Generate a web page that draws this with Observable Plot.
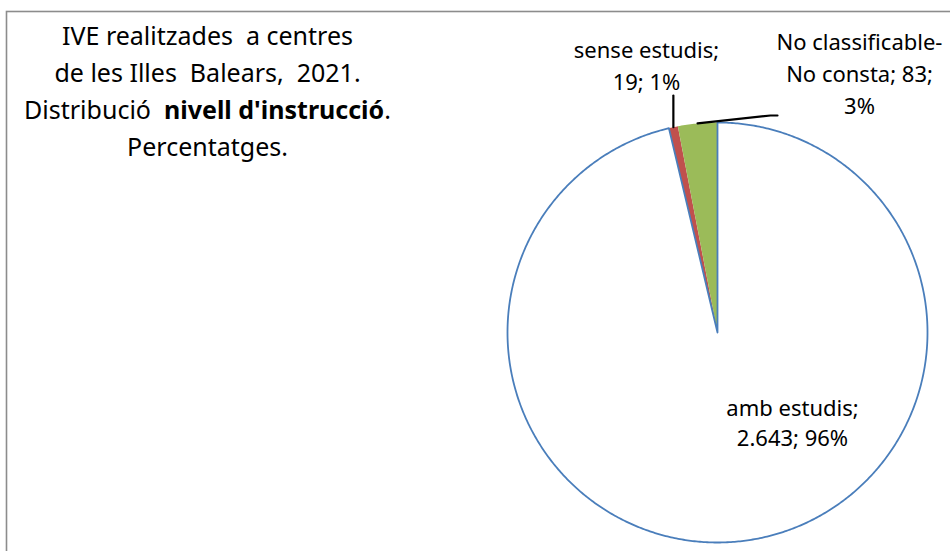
<!DOCTYPE html>
<html><head><meta charset="utf-8">
<script src="https://cdn.jsdelivr.net/npm/d3@7"></script>
<script src="https://cdn.jsdelivr.net/npm/@observablehq/plot@0.6"></script>
<style>
html,body{margin:0;padding:0;background:#fff;overflow:hidden;}
</style></head><body><div id="chart"></div>
<script>
// ---- data ----
const categories = ["amb estudis", "sense estudis", "No classificable-No consta"];
const values = [2643, 19, 83];
const sliceColors = ["#FFFFFF", "#C0504D", "#9BBB59"];
const titleLines = ["IVE realitzades  a centres", "de les Illes  Balears,  2021.", "Distribució  nivell d'instrucció.", "Percentatges."];
const titleBold = "nivell d'instrucció";

// ---- layout (pixels) ----
const W = 950, H = 551, CX = 717, CY = 332, R = 210;
const px = x => (x - CX) / R, py = y => (CY - y) / R;
const titlePos = {x: 207, y: 155, lh: 37, size: 25};
const labelLayout = [
  {x: 792, y: 445, lh: 30, wrap: [2, 2]},
  {x: 646, y: 89, lh: 32, wrap: [2, 2]},
  {x: 859, y: 113, lh: 32, wrap: [2, 3, 1]}
];
const leaderElbows = [null, [[null, 95]], [[770, 115], [777, 115]]];
const labelSize = 22;

// ---- computation ----
const total = d3.sum(values);
const fmt = d3.formatLocale({decimal: ",", thousands: ".", grouping: [3], currency: ["", "€"]}).format(",d");
const rows = categories.map((name, i) => ({name, value: values[i], color: sliceColors[i], i}));
const arcs = d3.pie().sort(null).value(d => d.value).startAngle(0).endAngle(2 * Math.PI)(rows);

function slicePoints(a) {
  const n = Math.max(2, Math.ceil((a.endAngle - a.startAngle) / (Math.PI / 360)));
  const pts = [{x: 0, y: 0}];
  for (let k = 0; k <= n; k++) {
    const t = a.startAngle + (a.endAngle - a.startAngle) * k / n;
    pts.push({x: Math.sin(t), y: Math.cos(t)});
  }
  return pts;
}

const marks = [];
// border
marks.push(Plot.rect([0], {x1: () => px(6.5), x2: () => px(W + 20), y1: () => py(11.5), y2: () => py(H + 20),
  fill: "none", stroke: "#8C8C8C", strokeWidth: 1.6}));

// colored slices first, then the white slice with its blue outline
arcs.slice(1).forEach(a => {
  marks.push(Plot.line(slicePoints(a), {x: "x", y: "y", curve: "linear-closed", fill: a.data.color, stroke: "none"}));
});
marks.push(Plot.line(slicePoints(arcs[0]), {x: "x", y: "y", curve: "linear-closed", fill: arcs[0].data.color, stroke: "#4A7EBB", strokeWidth: 1.8}));

// leader lines
arcs.forEach((a, i) => {
  const el = leaderElbows[i];
  if (!el) return;
  const mid = (a.startAngle + a.endAngle) / 2;
  const start = {x: Math.sin(mid), y: Math.cos(mid)};
  const pts = [start, ...el.map(([ex, ey]) => ({x: ex == null ? start.x : px(ex), y: py(ey)}))];
  marks.push(Plot.line(pts, {x: "x", y: "y", stroke: "#000", strokeWidth: 2.2}));
});

// labels
arcs.forEach((a, i) => {
  const L = labelLayout[i];
  const pct = Math.round(a.data.value / total * 100);
  const full = `${a.data.name}; ${fmt(a.data.value)}; ${pct}%`;
  const tokens = full.split(/(?<=[ \-])/);
  const lines = [];
  let k = 0;
  for (const c of L.wrap) { lines.push(tokens.slice(k, k + c).join("").trim()); k += c; }
  marks.push(Plot.text([lines.join("\n")], {x: () => px(L.x), y: () => py(L.y), text: d => d,
    textAnchor: "middle", lineAnchor: "bottom", lineHeight: L.lh / labelSize, fontSize: labelSize, fill: "#000"}));
});

// title
marks.push(Plot.text([titleLines.join("\n")], {x: () => px(titlePos.x), y: () => py(titlePos.y), text: d => d,
  textAnchor: "middle", lineAnchor: "bottom", lineHeight: titlePos.lh / titlePos.size, fontSize: titlePos.size, fill: "#000"}));

const svg = Plot.plot({
  width: W, height: H, margin: 0,
  x: {domain: [px(0), px(W)], range: [0, W], axis: null},
  y: {domain: [py(H), py(0)], range: [H, 0], axis: null},
  style: {fontFamily: "'Noto Sans', sans-serif", background: "white"},
  marks
});

// mixed bold in title line 3
d3.select(svg).selectAll("tspan").filter(function () { return this.textContent === titleLines[2]; }).each(function () {
  const t = d3.select(this);
  const s = titleLines[2];
  const j = s.indexOf(titleBold);
  t.text(null);
  t.append("tspan").text(s.slice(0, j));
  t.append("tspan").attr("font-weight", "bold").text(titleBold);
  t.append("tspan").text(s.slice(j + titleBold.length));
});

document.getElementById("chart").appendChild(svg);
</script></body></html>
